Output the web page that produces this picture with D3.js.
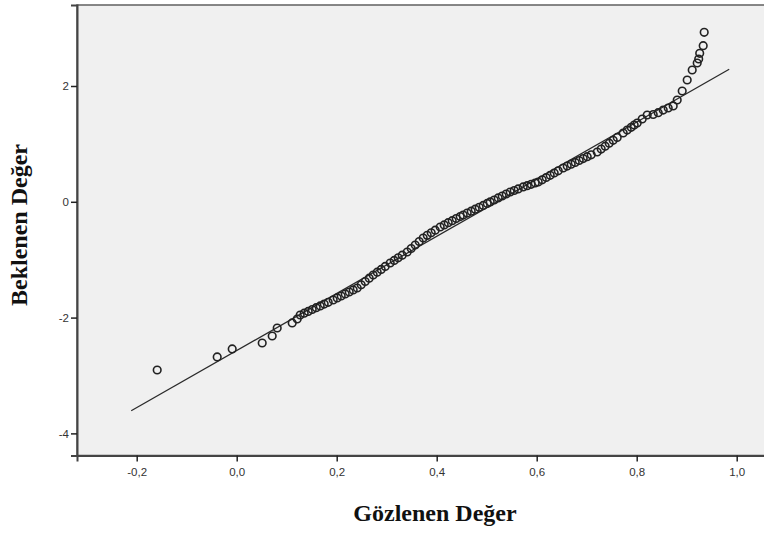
<!DOCTYPE html>
<html>
<head>
<meta charset="utf-8">
<script src="https://cdn.jsdelivr.net/npm/d3@7"></script>
<style>
  html, body { margin: 0; padding: 0; background: #fff; }
  svg { display: block; }
</style>
</head>
<body>
<svg id="chart" width="764" height="533"></svg>
<script>
// Observed values (Gözlenen Değer)
const observed = [
  -0.159, -0.039, -0.009, 0.051, 0.071, 0.081, 0.111, 0.121,
  0.127, 0.135, 0.143, 0.151, 0.159, 0.167, 0.175, 0.183, 0.193,
  0.201, 0.209, 0.217, 0.225, 0.233, 0.241,
  0.249, 0.257, 0.265, 0.273, 0.281, 0.289, 0.297, 0.307,
  0.315, 0.323, 0.331, 0.341, 0.349, 0.357, 0.365, 0.373,
  0.381, 0.389, 0.397, 0.407, 0.415, 0.423, 0.431, 0.439, 0.447, 0.453,
  0.461, 0.469, 0.477, 0.485, 0.493, 0.501, 0.507,
  0.515, 0.523, 0.531, 0.539, 0.547, 0.555, 0.563, 0.573,
  0.581, 0.589, 0.597, 0.603, 0.611, 0.619, 0.627, 0.635, 0.643, 0.653,
  0.661, 0.669, 0.677, 0.685, 0.693, 0.701, 0.709, 0.721,
  0.729, 0.737, 0.745, 0.753, 0.761, 0.773, 0.781, 0.789, 0.795, 0.801,
  0.811, 0.821, 0.833, 0.843, 0.853, 0.863, 0.873, 0.881, 0.891,
  0.901, 0.911, 0.921, 0.924, 0.926, 0.933, 0.935
];
// Expected normal values (Beklenen Değer)
const expected = [
  -2.905, -2.680, -2.542, -2.439, -2.318, -2.180, -2.093, -2.024,
  -1.955, -1.924, -1.893, -1.860, -1.829, -1.798, -1.767, -1.736, -1.696,
  -1.661, -1.627, -1.592, -1.558, -1.523, -1.489,
  -1.433, -1.377, -1.320, -1.264, -1.216, -1.168, -1.117, -1.057,
  -1.012, -0.967, -0.922, -0.867, -0.807, -0.746, -0.686, -0.625,
  -0.580, -0.535, -0.491, -0.435, -0.399, -0.361, -0.326, -0.290, -0.256, -0.228,
  -0.195, -0.162, -0.128, -0.095, -0.062, -0.028, -0.003,
  0.031, 0.066, 0.100, 0.135, 0.169, 0.195, 0.223, 0.256,
  0.278, 0.302, 0.325, 0.342, 0.380, 0.420, 0.458, 0.497, 0.535, 0.584,
  0.617, 0.649, 0.680, 0.713, 0.746, 0.779, 0.812, 0.860,
  0.910, 0.960, 1.012, 1.062, 1.112, 1.188, 1.238, 1.287, 1.325, 1.361,
  1.430, 1.499, 1.508, 1.539, 1.585, 1.620, 1.655, 1.758, 1.914,
  2.104, 2.276, 2.397, 2.466, 2.565, 2.696, 2.927
];
// Reference line endpoints
const lineX = [-0.211, 0.985];
const lineY = [-3.61, 2.29];

const xTicks = [-0.2, 0.0, 0.2, 0.4, 0.6, 0.8, 1.0];
const yTicks = [-4, -2, 0, 2];
const xTitle = "Gözlenen Değer";
const yTitle = "Beklenen Değer";

const svg = d3.select("#chart");
const mLeft = 77, mTop = 5, mRight = 770, mBottom = 455.5;

const x = d3.scaleLinear().domain([-0.3194, 1.0666]).range([mLeft, mRight]);
const y = d3.scaleLinear().domain([-4.382, 3.399]).range([mBottom, mTop]);

// plot background
svg.append("rect")
  .attr("x", mLeft).attr("y", mTop)
  .attr("width", mRight - mLeft).attr("height", mBottom - mTop)
  .attr("fill", "#f0f0f0")
  .attr("stroke", "#6a6a6a").attr("stroke-width", 1.6);

const fmt = d => d3.format(".1f")(d).replace(".", ",").replace("−", "-");

const xAxis = svg.append("g")
  .attr("transform", `translate(0,${mBottom})`)
  .call(d3.axisBottom(x).tickValues(xTicks).tickSize(6).tickPadding(6).tickFormat(fmt));
const yAxis = svg.append("g")
  .attr("transform", `translate(${mLeft},0)`)
  .call(d3.axisLeft(y).tickValues(yTicks).tickSize(6).tickPadding(2).tickFormat(d => String(d).replace("−", "-")));

[xAxis, yAxis].forEach(g => {
  g.select(".domain").attr("stroke", "#444").attr("stroke-width", 2);
  g.selectAll(".tick line").attr("stroke", "#222").attr("stroke-width", 1.5);
  g.selectAll(".tick text")
    .attr("fill", "#333")
    .style("font-family", "'Liberation Sans', Arial, sans-serif")
    .style("font-size", "11.5px");
});

// reference line
svg.append("line")
  .attr("x1", x(lineX[0])).attr("y1", y(lineY[0]))
  .attr("x2", x(lineX[1])).attr("y2", y(lineY[1]))
  .attr("stroke", "#2a2a2a").attr("stroke-width", 1.3);

// points
svg.append("g").selectAll("circle")
  .data(observed.map((v, i) => [v, expected[i]]))
  .join("circle")
  .attr("cx", d => x(d[0]))
  .attr("cy", d => y(d[1]))
  .attr("r", 3.8)
  .attr("fill", "none")
  .attr("stroke", "#222")
  .attr("stroke-width", 1.6);

// axis titles
svg.append("text")
  .attr("x", 435).attr("y", 521)
  .attr("text-anchor", "middle")
  .style("font-family", "'Liberation Serif', 'Times New Roman', serif")
  .style("font-weight", "bold")
  .style("font-size", "24px")
  .attr("fill", "#111")
  .text(xTitle);

svg.append("text")
  .attr("transform", "translate(27,225) rotate(-90)")
  .attr("text-anchor", "middle")
  .style("font-family", "'Liberation Serif', 'Times New Roman', serif")
  .style("font-weight", "bold")
  .style("font-size", "24px")
  .attr("fill", "#111")
  .text(yTitle);
</script>
</body>
</html>
